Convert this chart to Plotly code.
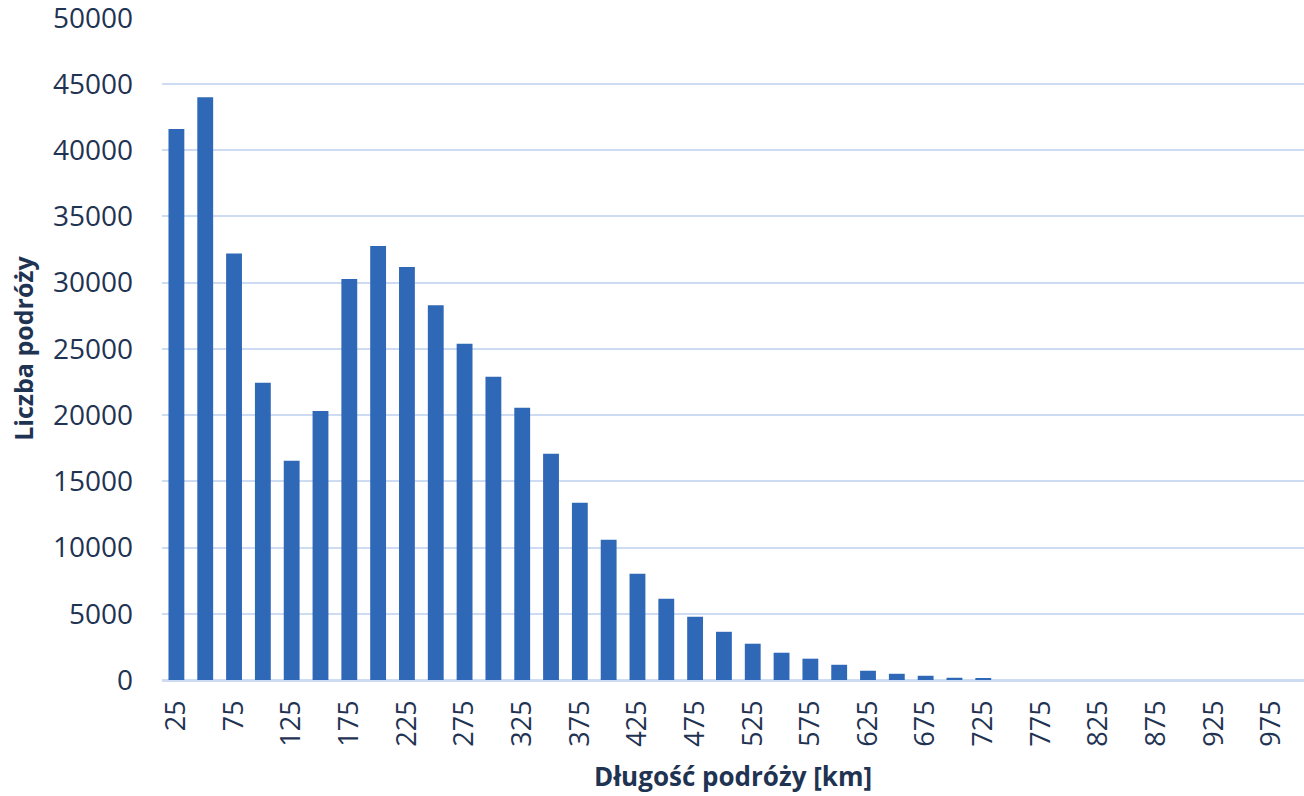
import plotly.graph_objects as go

# Data
distances = [25, 50, 75, 100, 125, 150, 175, 200, 225, 250,
             275, 300, 325, 350, 375, 400, 425, 450, 475, 500,
             525, 550, 575, 600, 625, 650, 675, 700, 725, 750,
             775, 800, 825, 850, 875, 900, 925, 950, 975, 1000]
trips = [41600, 44000, 32200, 22450, 16550, 20320, 30280, 32770, 31190, 28300,
         25380, 22890, 20550, 17080, 13380, 10590, 8020, 6130, 4780, 3640,
         2740, 2060, 1610, 1150, 700, 470, 320, 170, 100, 0,
         0, 0, 0, 0, 0, 0, 0, 0, 0, 0]
shown_ticks = [25, 75, 125, 175, 225, 275, 325, 375, 425, 475,
               525, 575, 625, 675, 725, 775, 825, 875, 925, 975]
y_ticks = [0, 5000, 10000, 15000, 20000, 25000, 30000, 35000, 40000, 45000, 50000]

cats = [str(d) for d in distances]
text_color = "#1f3352"
grid_color = "#cddcf2"

fig = go.Figure()
fig.add_trace(go.Bar(
    x=cats,
    y=trips,
    marker=dict(color="#3068b8", line=dict(width=0)),
    width=0.55,
))

fig.update_layout(
    width=1304,
    height=796,
    margin=dict(l=162, r=0, t=17, b=116),
    paper_bgcolor="white",
    plot_bgcolor="white",
    showlegend=False,
    font=dict(family="Open Sans", color=text_color),
    xaxis=dict(
        type="category",
        categoryorder="array",
        categoryarray=cats,
        range=[-0.5, 39.13],
        tickmode="array",
        tickvals=[str(t) for t in shown_ticks],
        ticktext=[str(t) for t in shown_ticks],
        tickangle=-90,
        tickfont=dict(size=27, color=text_color),
        ticks="",
        showgrid=False,
        showline=False,
        automargin=False,
        ticklabelstandoff=14,
        title=dict(text="<b>Długość podróży [km]</b>",
                   font=dict(size=26, color=text_color), standoff=22),
    ),
    yaxis=dict(
        range=[0, 50060],
        tickmode="array",
        tickvals=y_ticks,
        ticktext=[str(v) for v in y_ticks],
        tickfont=dict(size=28, color=text_color),
        ticklabeloverflow="allow",
        showgrid=True,
        gridcolor=grid_color,
        gridwidth=2,
        zeroline=True,
        zerolinecolor=grid_color,
        zerolinewidth=3,
        showline=False,
        ticks="",
        automargin=False,
        ticklabelstandoff=28,
        title=dict(text="<b>Liczba podróży</b>",
                   font=dict(size=25, color=text_color), standoff=12),
    ),
)

fig.write_html(
    "out.html",
    config={"displayModeBar": False},
    post_script="document.body.style.margin='0';document.body.style.overflow='hidden';",
)
